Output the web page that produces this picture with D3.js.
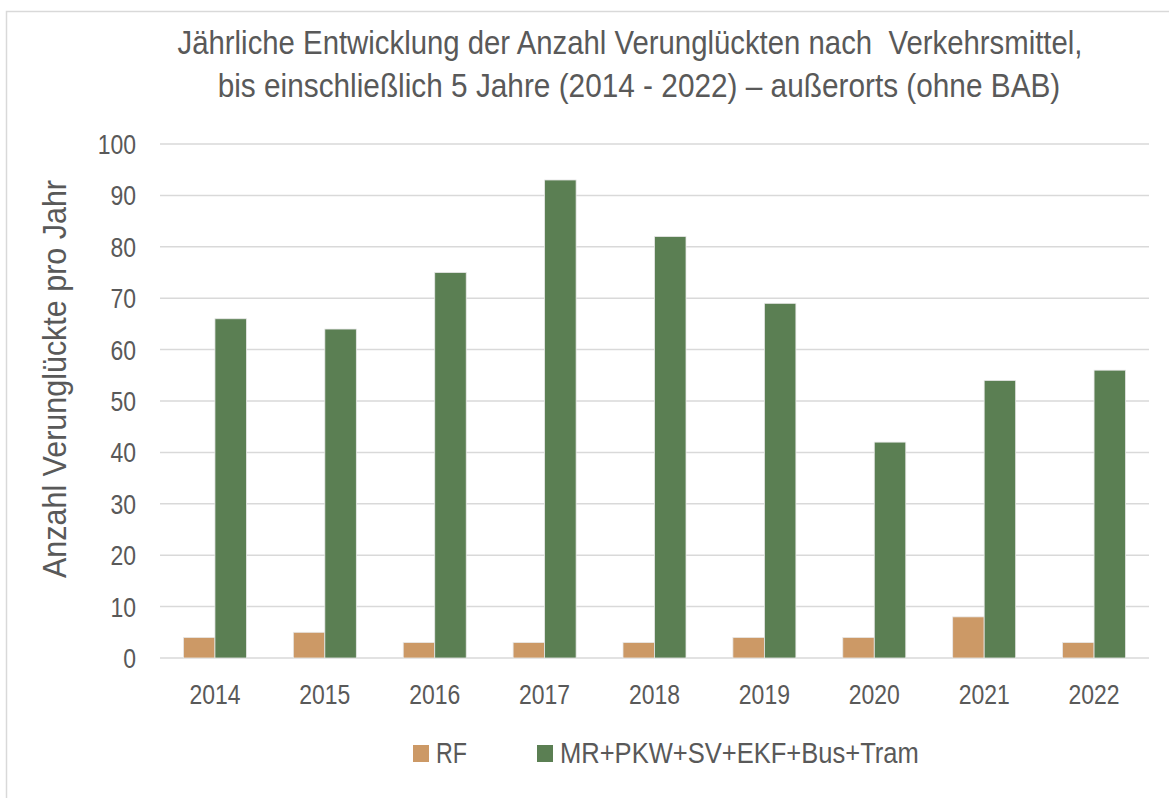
<!DOCTYPE html>
<html>
<head>
<meta charset="utf-8">
<script src="https://cdn.jsdelivr.net/npm/d3@7"></script>
<style>
  body { margin: 0; background: #fff; }
  text { font-family: "Liberation Sans", Arial, sans-serif; fill: #595959; white-space: pre; }
</style>
</head>
<body>
<div id="chart"></div>
<script>
var years = ["2014", "2015", "2016", "2017", "2018", "2019", "2020", "2021", "2022"];
var rf = [4, 5, 3, 3, 3, 4, 4, 8, 3];
var other = [66, 64, 75, 93, 82, 69, 42, 54, 56];
var seriesNames = ["RF", "MR+PKW+SV+EKF+Bus+Tram"];
var colors = ["#CC9966", "#5B7F53"];
var yTicks = [0, 10, 20, 30, 40, 50, 60, 70, 80, 90, 100];

var width = 1169,
  height = 798;

var svg = d3.select("#chart")
  .append("svg")
  .attr("width", width)
  .attr("height", height);

// no Arial Narrow in the sandbox -> squeeze Liberation Sans horizontally
// around its own anchor point (target width or a fixed factor)
function narrow(sel, target) {
  sel.each(function() {
    var len = this.getComputedTextLength();
    var sx = target ? target / len : 0.82;
    var t = d3.select(this);
    var px = +t.attr("x"), py = +t.attr("y");
    t.attr("transform", "translate(" + px + "," + py + ") scale(" + sx + ",1) translate(" + (-px) + "," + (-py) + ")");
  });
}

// outer frame, runs off the right and bottom edge like the original
svg.append("rect")
  .attr("x", 6.5).attr("y", 11.5)
  .attr("width", 1180).attr("height", 800)
  .attr("fill", "none")
  .attr("stroke", "#d9d9d9")
  .attr("stroke-width", 1.5);

// title (double space before "Verkehrsmittel" is in the original)
svg.append("text")
  .attr("x", 630).attr("y", 54)
  .attr("text-anchor", "middle")
  .attr("font-size", "34px")
  .text("Jährliche Entwicklung der Anzahl Verunglückten nach  Verkehrsmittel,")
  .call(narrow, 905);
svg.append("text")
  .attr("x", 639).attr("y", 97)
  .attr("text-anchor", "middle")
  .attr("font-size", "34px")
  .text("bis einschließlich 5 Jahre (2014 - 2022) – außerorts (ohne BAB)")
  .call(narrow, 843);

var x = d3.scaleBand()
  .domain(years)
  .range([160, 1149]);

var y = d3.scaleLinear()
  .domain([0, 100])
  .range([658, 144]);

var barW = 31.5;

// gridlines
svg.append("g").selectAll("line")
  .data(yTicks)
  .enter()
  .append("line")
  .attr("x1", 160).attr("x2", 1149)
  .attr("y1", function(d) { return y(d); })
  .attr("y2", function(d) { return y(d); })
  .attr("stroke", "#d9d9d9")
  .attr("stroke-width", 1.5);

// y tick labels
svg.append("g").selectAll("text")
  .data(yTicks)
  .enter()
  .append("text")
  .attr("x", 136)
  .attr("y", function(d) { return y(d) + 10; })
  .attr("text-anchor", "end")
  .attr("font-size", "28px")
  .text(function(d) { return d; })
  .call(narrow);

// x tick labels
svg.append("g").selectAll("text")
  .data(years)
  .enter()
  .append("text")
  .attr("x", function(d) { return x(d) + x.bandwidth() / 2; })
  .attr("y", 704)
  .attr("text-anchor", "middle")
  .attr("font-size", "28px")
  .text(function(d) { return d; })
  .call(narrow);

// bars
var bars = svg.append("g");
[rf, other].forEach(function(vals, s) {
  bars.selectAll("rect.s" + s)
    .data(vals)
    .enter()
    .append("rect")
    .attr("class", "s" + s)
    .attr("x", function(d, i) {
      return x(years[i]) + x.bandwidth() / 2 + (s === 0 ? -barW : 0);
    })
    .attr("y", function(d) { return y(d); })
    .attr("width", barW)
    .attr("height", function(d) { return y(0) - y(d); })
    .attr("fill", colors[s])
    .attr("stroke", "#e8e8e8")
    .attr("stroke-width", 0.8);
});

// y axis title
svg.append("text")
  .attr("transform", "translate(66,379) rotate(-90)")
  .attr("text-anchor", "middle")
  .attr("font-size", "34px")
  .text("Anzahl Verunglückte pro Jahr")
  .attr("textLength", 398)
  .attr("lengthAdjust", "spacingAndGlyphs");

// legend
var legendX = [413, 537];
var legendW = [31, 359];
var legend = svg.append("g");
seriesNames.forEach(function(name, s) {
  legend.append("rect")
    .attr("x", legendX[s]).attr("y", 745)
    .attr("width", 16).attr("height", 17)
    .attr("fill", colors[s]);
  legend.append("text")
    .attr("x", legendX[s] + 23).attr("y", 763)
    .attr("font-size", "29px")
    .text(name)
    .call(narrow, legendW[s]);
});
</script>
</body>
</html>
